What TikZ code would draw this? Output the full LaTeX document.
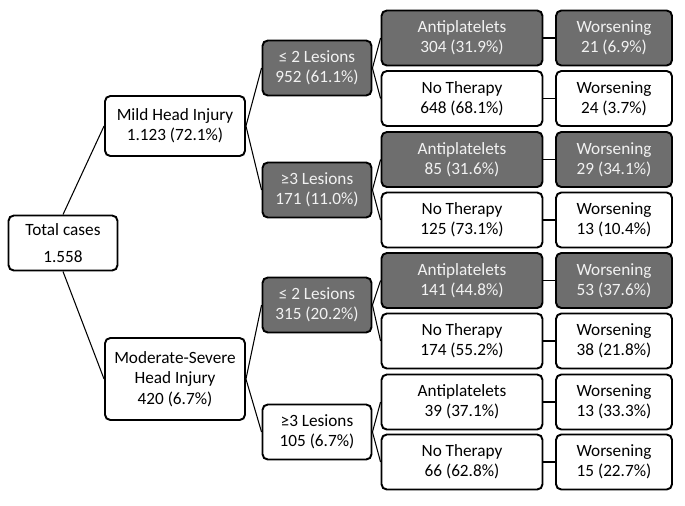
\documentclass[tikz,border=0pt]{standalone}
\usepackage{fontspec}
\setmainfont{Carlito}
\usepackage{xcolor}
\usepackage{tikz}
\definecolor{boxgray}{HTML}{6E6E6E}
\definecolor{boxtext}{HTML}{F2F2F2}

\begin{document}
\begin{tikzpicture}[
    x=0.02cm, y=-0.02cm,
    plainbox/.style={rectangle, draw=black, fill=white, rounded corners=3pt, line width=1.1pt, align=center, inner sep=1pt, font=\fontsize{9.8}{11.6}\selectfont},
    shadebox/.style={plainbox, fill=boxgray, text=boxtext},
    totalbox/.style={plainbox, minimum width=2.18cm, minimum height=1.1cm},
    injbox/.style={plainbox, minimum width=2.8cm, minimum height=1.2cm},
    lesbox/.style={minimum width=2.18cm, minimum height=1.1cm},
    therbox/.style={minimum width=3.22cm, minimum height=1.1cm},
    worsebox/.style={minimum width=2.32cm, minimum height=1.1cm},
    link/.style={black, line width=0.6pt},
]
\useasboundingbox (0,0) rectangle (685,505);

% Root and injury classes
\node[totalbox] (total) at (63, 243) {Total cases\\[4pt]1.558};
\node[injbox] (mild) at (175, 126) {Mild Head Injury\\1.123 (72.1\%)};
\node[injbox, minimum height=1.64cm] (mod) at (175, 379) {Moderate-Severe\\Head Injury\\420 (6.7\%)};

% Lesions
\node[shadebox, lesbox] (les1) at (317, 68) {≤ 2 Lesions\\952 (61.1\%)};
\node[shadebox, lesbox] (les2) at (317, 190) {≥3 Lesions\\171 (11.0\%)};
\node[shadebox, lesbox] (les3) at (317, 305) {≤ 2 Lesions\\315 (20.2\%)};
\node[plainbox, lesbox] (les4) at (317, 432) {≥3 Lesions\\105 (6.7\%)};

% Therapy
\node[shadebox, therbox] (th1) at (462, 38) {Antiplatelets\\304 (31.9\%)};
\node[plainbox, therbox] (th2) at (462, 98.5) {No Therapy\\648 (68.1\%)};
\node[shadebox, therbox] (th3) at (462, 159.5) {Antiplatelets\\85 (31.6\%)};
\node[plainbox, therbox] (th4) at (462, 220) {No Therapy\\125 (73.1\%)};
\node[shadebox, therbox] (th5) at (462, 280.5) {Antiplatelets\\141 (44.8\%)};
\node[plainbox, therbox] (th6) at (462, 341) {No Therapy\\174 (55.2\%)};
\node[plainbox, therbox] (th7) at (462, 402) {Antiplatelets\\39 (37.1\%)};
\node[plainbox, therbox] (th8) at (462, 462) {No Therapy\\66 (62.8\%)};

% Outcome
\node[shadebox, worsebox] (w1) at (614, 38) {Worsening\\21 (6.9\%)};
\node[plainbox, worsebox] (w2) at (614, 98.5) {Worsening\\24 (3.7\%)};
\node[shadebox, worsebox] (w3) at (614, 159.5) {Worsening\\29 (34.1\%)};
\node[plainbox, worsebox] (w4) at (614, 220) {Worsening\\13 (10.4\%)};
\node[shadebox, worsebox] (w5) at (614, 280.5) {Worsening\\53 (37.6\%)};
\node[plainbox, worsebox] (w6) at (614, 341) {Worsening\\38 (21.8\%)};
\node[plainbox, worsebox] (w7) at (614, 402) {Worsening\\13 (33.3\%)};
\node[plainbox, worsebox] (w8) at (614, 462) {Worsening\\15 (22.7\%)};

% Links
\draw[link] (total.north) -- (mild.west);
\draw[link] (total.south) -- (mod.west);
\draw[link] (mild.east) -- (les1.west);
\draw[link] (mild.east) -- (les2.west);
\draw[link] (mod.east) -- (les3.west);
\draw[link] (mod.east) -- (les4.west);
\draw[link] (les1.east) -- (th1.west);
\draw[link] (les1.east) -- (th2.west);
\draw[link] (les2.east) -- (th3.west);
\draw[link] (les2.east) -- (th4.west);
\draw[link] (les3.east) -- (th5.west);
\draw[link] (les3.east) -- (th6.west);
\draw[link] (les4.east) -- (th7.west);
\draw[link] (les4.east) -- (th8.west);
\foreach \i in {1,...,8}
  \draw[link] (th\i.east) -- (w\i.west);

\end{tikzpicture}
\end{document}
